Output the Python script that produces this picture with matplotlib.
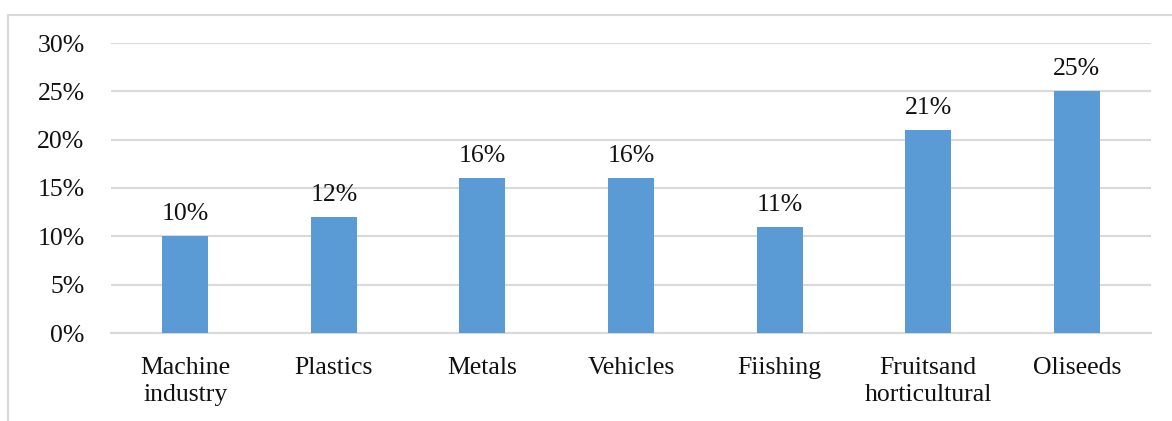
import matplotlib.pyplot as plt
from matplotlib.patches import Rectangle

categories = ["Machine\nindustry", "Plastics", "Metals", "Vehicles", "Fiishing",
              "Fruitsand\nhorticultural", "Oliseeds"]
values = [10, 12, 16, 16, 11, 21, 25]
yticks = [0, 5, 10, 15, 20, 25, 30]
ytick_labels = ["0%", "5%", "10%", "15%", "20%", "25%", "30%"]

plt.rcParams['font.family'] = ['Liberation Serif', 'DejaVu Serif']

fig = plt.figure(figsize=(11.72, 4.21), dpi=100)
ax = fig.add_axes([111 / 1172, 1 - 333 / 421, 1040 / 1172, 290 / 421])

# outer chart frame (runs off the right and bottom edges)
fig.patches.append(Rectangle((8 / 1172, -0.1), 1.2, 1 - 15 / 421 + 0.1,
                             transform=fig.transFigure, fill=False,
                             edgecolor='#D9D9D9', linewidth=1.5))

x = range(len(categories))
bars = ax.bar(x, values, width=0.31, color='#5B9BD5', zorder=3)

for xi, v in zip(x, values):
    ax.annotate(f"{v}%", (xi, v), xytext=(0, 8), textcoords='offset points',
                ha='center', va='bottom', fontsize=18.5, color='#111111')

ax.set_xlim(-0.5, len(categories) - 0.5)
ax.set_ylim(0, 30)
ax.set_yticks(yticks)
ax.set_yticklabels(ytick_labels)
ax.set_xticks(list(x))
ax.set_xticklabels(categories, linespacing=1.3)
ax.tick_params(axis='y', length=0, pad=19, labelsize=18.5, labelcolor='#111111')
ax.tick_params(axis='x', length=0, pad=17, labelsize=18.5, labelcolor='#111111')

ax.grid(axis='y', color='#D9D9D9', linewidth=1.5, zorder=0)
for side in ['top', 'right', 'left']:
    ax.spines[side].set_visible(False)
ax.spines['bottom'].set_color('#D9D9D9')
ax.spines['bottom'].set_linewidth(1.5)

fig.savefig("out.png", dpi=100)
